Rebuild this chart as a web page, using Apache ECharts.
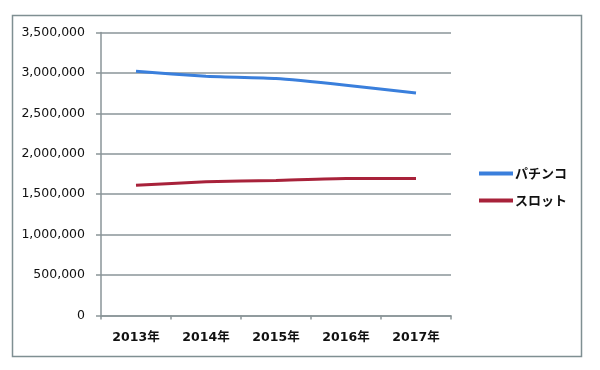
<!DOCTYPE html>
<html><head><meta charset="utf-8">
<script src="https://cdn.jsdelivr.net/npm/echarts@6/dist/echarts.min.js"></script>
<style>html,body{margin:0;padding:0;background:#fff}#c{width:600px;height:370px}</style>
</head><body><div id="c"></div>
<script>
const categories = ['2013年','2014年','2015年','2016年','2017年'];
const pachinko = [3020000, 2958000, 2930000, 2848000, 2752000];
const slot = [1610000, 1655000, 1670000, 1695000, 1695000];
const seriesNames = ['パチンコ','スロット'];
const yTicks = {min: 0, max: 3500000, interval: 500000};

const gridColor = '#8a9598';
const chart = echarts.init(document.getElementById('c'));
chart.setOption({
  animation: false,
  textStyle: {fontFamily: '"DejaVu Sans", "Noto Sans CJK JP", sans-serif'},
  graphic: [{type: 'rect', shape: {x: 12.5, y: 15.5, width: 569, height: 341}, style: {fill: 'none', stroke: '#7f8f92', lineWidth: 1.5}}],
  grid: {left: 101, right: 149, top: 32.5, bottom: 54.5},
  legend: {
    orient: 'vertical', left: 474, top: 162, itemGap: 14,
    icon: 'rect', itemWidth: 34, itemHeight: 4,
    textStyle: {fontSize: 13, fontWeight: 'bold', color: '#111', fontFamily: '"Noto Sans CJK JP", sans-serif', padding: [0,0,0,-3]},
    data: seriesNames
  },
  xAxis: {
    type: 'category', data: categories, boundaryGap: true,
    axisLine: {lineStyle: {color: gridColor, width: 1.5}},
    axisTick: {show: true, length: 4, lineStyle: {color: gridColor, width: 1.5}},
    axisLabel: {fontSize: 12.5, fontWeight: 'bold', color: '#111', margin: 16, fontFamily: '"DejaVu Sans", "Noto Sans CJK JP", sans-serif'}
  },
  yAxis: {
    type: 'value', min: yTicks.min, max: yTicks.max, interval: yTicks.interval,
    axisLine: {show: true, lineStyle: {color: gridColor, width: 1.5}},
    axisTick: {show: true, length: 5, lineStyle: {color: gridColor, width: 1.5}},
    splitLine: {lineStyle: {color: gridColor, width: 1.5}},
    axisLabel: {fontSize: 12.5, color: '#111', margin: 16, formatter: v => v.toLocaleString('en-US')}
  },
  series: [
    {name: seriesNames[0], type: 'line', data: pachinko, symbol: 'none', smooth: 0.15, lineStyle: {color: '#3a7fdc', width: 3}, itemStyle: {color: '#3a7fdc'}},
    {name: seriesNames[1], type: 'line', data: slot, symbol: 'none', smooth: 0.15, lineStyle: {color: '#a8223a', width: 3}, itemStyle: {color: '#a8223a'}}
  ]
});
</script></body></html>
